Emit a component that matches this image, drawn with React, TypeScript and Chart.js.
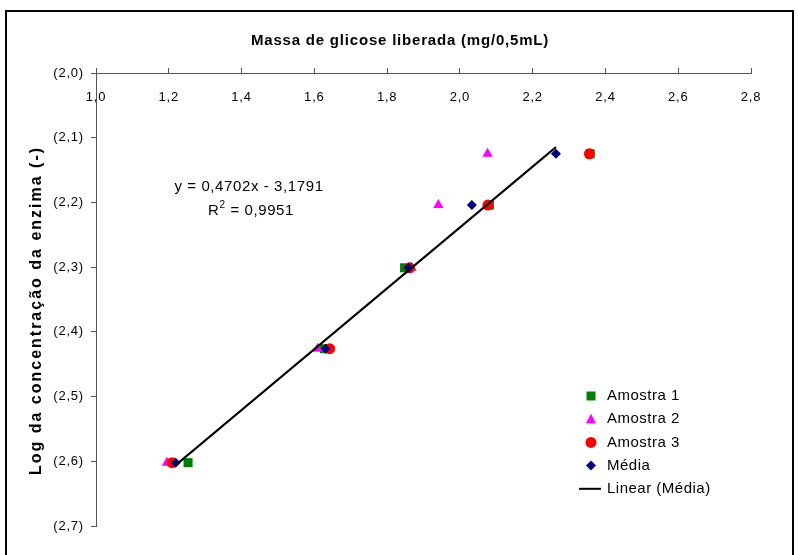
import React, { useEffect, useRef } from 'react';
import { Chart, registerables } from 'chart.js';

Chart.register(...registerables);

// ---- Data ----
const logConcentration = [-2.6021, -2.426, -2.301, -2.2041, -2.1249];
const amostra1 = [1.253, 1.628, 1.848, 2.081, 2.358];
const amostra2 = [1.195, 1.609, 1.867, 1.941, 2.076];
const amostra3 = [1.209, 1.642, 1.862, 2.077, 2.356];
const media = [1.219, 1.631, 1.859, 2.033, 2.264];

const seriesNames = ['Amostra 1', 'Amostra 2', 'Amostra 3', 'Média', 'Linear (Média)'];
const seriesColors = ['#008000', '#FF00FF', '#FF0000', '#000080', '#000000'];

const trendSlope = 0.4702;
const trendIntercept = -3.1791;
const rSquared = 0.9951;

const xMin = 1.0, xMax = 2.8, xStep = 0.2;
const yMin = -2.7, yMax = -2.0, yStep = 0.1;

const chartTitle = 'Massa de glicose liberada (mg/0,5mL)';
const yTitle = 'Log da concentração da enzima (-)';

const FONT = 'Arial, "Liberation Sans", sans-serif';

const comma = (v: number, d: number) => v.toFixed(d).replace('.', ',');

const toPoints = (xs: number[]) => xs.map((x, i) => ({ x, y: logConcentration[i] }));

function drawMarker(ctx: CanvasRenderingContext2D, kind: string, x: number, y: number, color: string) {
  ctx.save();
  ctx.fillStyle = color;
  ctx.strokeStyle = color;
  ctx.beginPath();
  if (kind === 'rect') {
    ctx.rect(x - 4.5, y - 4.5, 9, 9);
  } else if (kind === 'triangle') {
    ctx.moveTo(x, y - 5.5);
    ctx.lineTo(x + 5, y + 4);
    ctx.lineTo(x - 5, y + 4);
    ctx.closePath();
  } else if (kind === 'circle') {
    ctx.arc(x, y, 5.5, 0, Math.PI * 2);
  } else if (kind === 'rectRot') {
    ctx.moveTo(x, y - 5);
    ctx.lineTo(x + 5, y);
    ctx.lineTo(x, y + 5);
    ctx.lineTo(x - 5, y);
    ctx.closePath();
  }
  if (kind === 'line') {
    ctx.lineWidth = 2;
    ctx.moveTo(x - 12, y);
    ctx.lineTo(x + 10, y);
    ctx.stroke();
  } else {
    ctx.fill();
  }
  ctx.restore();
}

const extrasPlugin = {
  id: 'extras',
  afterLayout(chart: any) {
    const ys = chart.scales.y;
    if (ys && !ys.__patched) {
      const orig = ys.drawTitle;
      ys.drawTitle = function (...args: any[]) {
        const c = this.ctx;
        c.save();
        c.letterSpacing = '2px';
        c.translate(0, 11);
        orig.apply(this, args);
        c.restore();
      };
      ys.__patched = true;
    }
  },
  beforeDraw(chart: any) {
    const ctx = chart.ctx as CanvasRenderingContext2D;
    ctx.save();
    ctx.strokeStyle = '#000';
    ctx.lineWidth = 2;
    ctx.strokeRect(6, 11, 787, 600);
    ctx.restore();
    (ctx as any).letterSpacing = '0.8px';
  },
  afterDraw(chart: any) {
    const ctx = chart.ctx as CanvasRenderingContext2D;
    const area = chart.chartArea;
    // Equation label
    ctx.save();
    (ctx as any).letterSpacing = '0.6px';
    ctx.fillStyle = '#000';
    ctx.font = `15px ${FONT}`;
    ctx.textBaseline = 'middle';
    ctx.textAlign = 'center';
    const ex = area.left + 153;
    const ey = area.top + 114;
    ctx.fillText(`y = ${comma(trendSlope, 4)}x - ${comma(-trendIntercept, 4)}`, ex, ey);
    const rPart = 'R';
    const rest = ` = ${comma(rSquared, 4)}`;
    const wR = ctx.measureText(rPart).width;
    const wRest = ctx.measureText(rest).width;
    ctx.font = `10px ${FONT}`;
    const w2 = ctx.measureText('2').width;
    const total = wR + w2 + wRest;
    let sx = ex + 2 - total / 2;
    const ry = ey + 24;
    ctx.textAlign = 'left';
    ctx.font = `15px ${FONT}`;
    ctx.fillText(rPart, sx, ry);
    sx += wR;
    ctx.font = `10px ${FONT}`;
    ctx.fillText('2', sx, ry - 6);
    sx += w2;
    ctx.font = `15px ${FONT}`;
    ctx.fillText(rest, sx, ry);
    ctx.restore();

    // Legend
    const kinds = ['rect', 'triangle', 'circle', 'rectRot', 'line'];
    ctx.save();
    (ctx as any).letterSpacing = '0.5px';
    ctx.font = `15px ${FONT}`;
    ctx.textBaseline = 'middle';
    ctx.textAlign = 'left';
    const lx = area.left + 495;
    const ly = area.top + 323;
    seriesNames.forEach((name, i) => {
      const y = ly + i * 23.2;
      drawMarker(ctx, kinds[i], lx, y, seriesColors[i]);
      ctx.fillStyle = '#000';
      ctx.fillText(name, lx + 16, y);
    });
    ctx.restore();
  },
};

export default function App() {
  const canvasRef = useRef<HTMLCanvasElement | null>(null);

  useEffect(() => {
    const canvas = canvasRef.current;
    if (!canvas) return;

    const mediaMin = Math.min(...media);
    const mediaMax = Math.max(...media);
    const trend = [
      { x: mediaMin, y: trendSlope * mediaMin + trendIntercept },
      { x: mediaMax, y: trendSlope * mediaMax + trendIntercept },
    ];

    const chart = new Chart(canvas, {
      type: 'scatter',
      data: {
        datasets: [
          {
            label: seriesNames[4],
            data: trend,
            showLine: true,
            borderColor: seriesColors[4],
            borderWidth: 2,
            pointRadius: 0,
            order: 0,
          },
          {
            label: seriesNames[3],
            data: toPoints(media),
            pointStyle: 'rectRot',
            pointRadius: 5,
            backgroundColor: seriesColors[3],
            borderColor: seriesColors[3],
            borderWidth: 0,
            order: 1,
          },
          {
            label: seriesNames[2],
            data: toPoints(amostra3),
            pointStyle: 'circle',
            pointRadius: 5.5,
            backgroundColor: seriesColors[2],
            borderColor: seriesColors[2],
            borderWidth: 0,
            order: 2,
          },
          {
            label: seriesNames[1],
            data: toPoints(amostra2),
            pointStyle: 'triangle',
            pointRadius: 6,
            backgroundColor: seriesColors[1],
            borderColor: seriesColors[1],
            borderWidth: 0,
            order: 3,
          },
          {
            label: seriesNames[0],
            data: toPoints(amostra1),
            pointStyle: 'rect',
            pointRadius: 6.4,
            backgroundColor: seriesColors[0],
            borderColor: seriesColors[0],
            borderWidth: 0,
            order: 4,
          },
        ],
      },
      options: {
        responsive: false,
        animation: false,
        devicePixelRatio: 1,
        layout: { padding: { left: 6, top: 11, right: 4, bottom: 29 } },
        font: { family: FONT },
        plugins: {
          legend: { display: false },
          tooltip: { enabled: false },
          title: {
            display: true,
            text: chartTitle,
            color: '#000',
            font: { family: FONT, size: 15, weight: 'bold' },
            padding: { top: 21, bottom: 0 },
          },
        },
        scales: {
          x: {
            type: 'linear',
            position: 'top',
            min: xMin,
            max: xMax,
            afterFit: (s: any) => { s.height = 23; },
            ticks: {
              stepSize: xStep,
              mirror: true,
              padding: 17,
              color: '#000',
              font: { family: FONT, size: 13 },
              maxRotation: 0,
              callback: (v: any) => comma(Number(v), 1),
            },
            grid: { display: true, drawOnChartArea: false, tickLength: 5, color: '#555' },
            border: { display: true, color: '#555', width: 1 },
          },
          y: {
            type: 'linear',
            position: 'left',
            min: yMin,
            max: yMax,
            afterFit: (s: any) => { s.width = 90; },
            ticks: {
              stepSize: yStep,
              padding: 7,
              color: '#000',
              font: { family: FONT, size: 13 },
              callback: (v: any) => `(${comma(Math.abs(Number(v)), 1)})`,
            },
            grid: { display: true, drawOnChartArea: false, tickLength: 5, color: '#555' },
            border: { display: true, color: '#555', width: 1 },
            title: {
              display: true,
              text: yTitle,
              color: '#000',
              font: { family: FONT, size: 16, weight: 'bold' },
              padding: { top: 21, bottom: 0 },
            },
          },
          yRight: {
            type: 'linear',
            position: 'right',
            min: yMin,
            max: yMax,
            afterFit: (s: any) => { s.width = 43; },
            ticks: { display: false },
            grid: { display: false, drawTicks: false },
            border: { display: false },
          },
        },
      },
      plugins: [extrasPlugin],
    });
    return () => chart.destroy();
  }, []);

  return (
    <div style={{ position: 'absolute', left: 0, top: 0, width: 798, height: 555, background: '#fff' }}>
      <canvas ref={canvasRef} width={798} height={555} />
    </div>
  );
}
